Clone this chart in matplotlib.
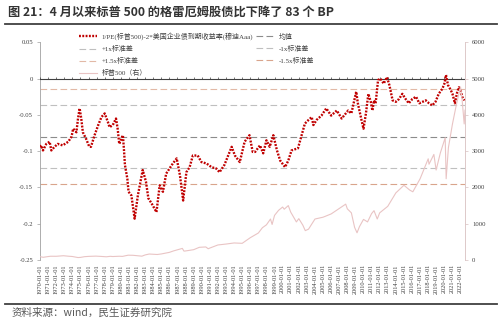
import numpy as np
import matplotlib
matplotlib.use("Agg")
from matplotlib import pyplot as plt
from matplotlib.lines import Line2D

# 1/PE(标普500) - 2*穆迪Aaa收益率, 按年份小数读取
gy_years = [1970.0, 1970.16, 1970.37, 1970.78, 1971.19, 1971.4, 1971.8, 1972.2, 1972.8, 1973.5,
            1973.9, 1974.1, 1974.5, 1974.7, 1974.9, 1975.1, 1975.3, 1975.7, 1976.1, 1976.3,
            1976.75, 1977.2, 1977.6, 1978.0, 1978.4, 1978.6, 1979.0, 1979.4, 1979.6, 1979.8,
            1980.25, 1980.4, 1980.5, 1980.8, 1980.95, 1981.3, 1981.7, 1982.1, 1982.7, 1983.1,
            1983.4, 1983.8, 1984.4, 1984.8, 1985.2, 1985.6, 1986.3, 1986.9, 1987.3, 1987.7,
            1988.1, 1988.5, 1988.9, 1989.5, 1989.96, 1990.6, 1991.2, 1991.8, 1992.2, 1992.8,
            1993.7, 1994.1, 1994.7, 1995.3, 1995.9, 1996.3, 1996.6, 1997.2, 1997.6, 1998.0,
            1998.4, 1998.85, 1999.3, 1999.7, 2000.3, 2000.7, 2001.1, 2001.9, 2002.3, 2002.75,
            2003.2, 2003.6, 2003.8, 2004.2, 2004.8, 2005.4, 2006.0, 2006.7, 2007.3, 2008.1,
            2008.5, 2008.9, 2009.1, 2009.3, 2009.75, 2010.0, 2010.3, 2010.6, 2010.9, 2011.1,
            2011.3, 2011.5, 2011.8, 2012.1, 2012.5, 2012.9, 2013.2, 2013.6, 2014.0, 2014.4,
            2014.8, 2015.2, 2015.6, 2016.05, 2016.5, 2016.9, 2017.3, 2017.7, 2018.1, 2018.5,
            2018.9, 2019.3, 2019.75, 2020.0, 2020.2, 2020.45, 2020.8, 2021.0, 2021.3, 2021.6,
            2021.8, 2022.0, 2022.2, 2022.5]
gy_vals = [-0.094, -0.092, -0.099, -0.090, -0.087, -0.099, -0.094, -0.090, -0.092, -0.087,
           -0.080, -0.069, -0.074, -0.055, -0.041, -0.055, -0.074, -0.083, -0.094, -0.094,
           -0.078, -0.064, -0.053, -0.048, -0.060, -0.067, -0.064, -0.055, -0.069, -0.090,
           -0.078, -0.101, -0.119, -0.138, -0.156, -0.161, -0.193, -0.161, -0.126, -0.142,
           -0.165, -0.172, -0.184, -0.147, -0.156, -0.131, -0.119, -0.110, -0.133, -0.168,
           -0.129, -0.122, -0.106, -0.106, -0.115, -0.117, -0.122, -0.124, -0.129, -0.119,
           -0.094, -0.106, -0.115, -0.087, -0.078, -0.101, -0.101, -0.092, -0.103, -0.085,
           -0.094, -0.078, -0.099, -0.113, -0.122, -0.113, -0.099, -0.096, -0.080, -0.062,
           -0.057, -0.053, -0.064, -0.057, -0.051, -0.041, -0.051, -0.044, -0.055, -0.044,
           -0.048, -0.028, -0.018, -0.034, -0.057, -0.069, -0.048, -0.021, -0.032, -0.044,
           -0.030, -0.034, -0.002, 0.000, -0.007, 0.002, -0.009, -0.030, -0.032, -0.028,
           -0.021, -0.028, -0.034, -0.028, -0.025, -0.034, -0.032, -0.030, -0.034, -0.037,
           -0.032, -0.021, -0.014, -0.007, 0.005, -0.009, -0.016, -0.021, -0.034, -0.018,
           -0.012, -0.016, -0.025, -0.030]

# 均值与标准差
gy_mean = -0.080
gy_std = 0.0435

# 标普500指数(右轴)
sp_years = [1970.0, 1970.4, 1971.0, 1971.3, 1972.0, 1972.9, 1973.5, 1974.0, 1974.7, 1975.0,
            1975.5, 1976.0, 1976.9, 1977.5, 1978.2, 1978.7, 1979.0, 1979.8, 1980.2, 1980.9,
            1981.5, 1982.6, 1983.0, 1983.5, 1984.5, 1985.0, 1986.0, 1986.5, 1987.6, 1987.8,
            1988.0, 1989.0, 1989.7, 1990.5, 1990.8, 1991.0, 1992.0, 1993.0, 1994.0, 1995.0,
            1996.0, 1997.0, 1997.5, 1998.0, 1998.5, 1998.7, 1999.0, 1999.5, 2000.0, 2000.2,
            2000.7, 2001.0, 2001.7, 2002.0, 2002.5, 2002.8, 2003.2, 2004.0, 2005.0, 2006.0,
            2007.0, 2007.8, 2008.0, 2008.5, 2008.9, 2009.2, 2009.5, 2010.0, 2010.5, 2011.0,
            2011.3, 2011.7, 2012.0, 2013.0, 2014.0, 2015.0, 2015.7, 2016.1, 2017.0, 2018.0,
            2018.1, 2018.7, 2018.98, 2019.5, 2020.1, 2020.22, 2020.5, 2021.0, 2021.5, 2022.0,
            2022.2, 2022.45, 2022.55]
sp_vals = [92, 75, 95, 104, 103, 118, 105, 97, 68, 72,
           92, 100, 107, 100, 89, 102, 96, 104, 100, 133,
           130, 106, 140, 165, 152, 167, 211, 250, 320, 245,
           250, 285, 350, 360, 310, 330, 415, 440, 470, 460,
           615, 745, 890, 970, 1130, 980, 1230, 1370, 1460, 1400,
           1500, 1320, 1050, 1140, 960, 810, 850, 1130, 1180, 1270,
           1420, 1540, 1410, 1300, 900, 750, 920, 1120, 1050, 1280,
           1360, 1130, 1300, 1480, 1850, 2060, 1930, 1880, 2240, 2790,
           2640, 2910, 2480, 2950, 3370, 2240, 3100, 3750, 4300, 4770,
           4400, 3750, 4130]

tick_years = list(range(1970, 2023))
tick_labels = [f"{y}-01-01" for y in tick_years]

serif = ["Liberation Serif", "Noto Sans CJK SC"]
plt.rcParams["font.family"] = serif

fig = plt.figure(figsize=(5, 3.23), dpi=100)
ax = fig.add_axes([0.08, 0.195, 0.85, 0.674])
ax2 = ax.twinx()

red, = ax.plot(gy_years, gy_vals, color="#C00000", lw=1.7, ls=(0, (0.8, 0.6)), zorder=5,
               label="1/PE(标普500)-2*美国企业债到期收益率(穆迪Aaa)")
m_ln = ax.axhline(gy_mean, color="#8C8C8C", lw=0.8, ls=(0, (6, 3)), label="均值")
p1 = ax.axhline(gy_mean + gy_std, color="#BFBFBF", lw=0.8, ls=(0, (6, 3)), label="+1x标准差")
n1 = ax.axhline(gy_mean - gy_std, color="#BFBFBF", lw=0.8, ls=(0, (6, 3)), label="-1x标准差")
p15 = ax.axhline(gy_mean + 1.5 * gy_std, color="#E2B9A6", lw=0.8, ls=(0, (6, 3)), label="+1.5x标准差")
n15 = ax.axhline(gy_mean - 1.5 * gy_std, color="#D9A48C", lw=0.8, ls=(0, (6, 3)), label="-1.5x标准差")
sp, = ax2.plot(sp_years, sp_vals, color="#E9C4C4", lw=0.8, label="标普500（右）")

# 零线及其刻度
ax.axhline(0, color="#404040", lw=0.8, zorder=4)
ax.vlines(tick_years, 0, 0.0018, color="#404040", lw=0.5, zorder=4)

ax.set_xlim(1970.0, 2022.55)
ax.set_ylim(-0.25, 0.05)
ax2.set_ylim(0, 6000)
ax.set_yticks([0.05, 0, -0.05, -0.1, -0.15, -0.2, -0.25])
ax.set_yticklabels(["0.05", "0", "-0.05", "-0.1", "-0.15", "-0.2", "-0.25"])
ax2.set_yticks(range(0, 6001, 1000))
ax.set_xticks(tick_years)
ax.set_xticklabels(tick_labels, rotation=90, fontsize=4.6, color="#404040")
ax.tick_params(axis="x", length=0, pad=3)
ax.tick_params(axis="y", labelsize=4.8, labelcolor="#404040", length=2, width=0.5, color="#A0A0A0", pad=3)
ax2.tick_params(axis="y", labelsize=4.8, labelcolor="#404040", length=2, width=0.5, color="#D8C0C0", pad=3)

for s in ["top", "bottom", "right"]:
    ax.spines[s].set_visible(False)
for s in ["top", "bottom", "left"]:
    ax2.spines[s].set_visible(False)
ax.spines["left"].set_color("#A0A0A0")
ax.spines["left"].set_linewidth(0.6)
ax2.spines["right"].set_color("#D8C0C0")
ax2.spines["right"].set_linewidth(0.6)

handles = [red, p1, p15, sp, m_ln, n1, n15]
fig.legend(handles=handles, labels=[h.get_label() for h in handles], ncol=2,
           loc="upper left", bbox_to_anchor=(0.158, 0.90), frameon=False,
           fontsize=5, labelcolor="#404040", handlelength=2.6, handletextpad=0.7,
           columnspacing=0.3, labelspacing=0.72, borderpad=0, borderaxespad=0)

# 标题与来源
fig.text(0.016, 0.962, "图 21：4 月以来标普 500 的格雷厄姆股债比下降了 83 个 BP",
         fontsize=8.8, fontweight="bold", color="#333333", family="Noto Sans CJK SC",
         va="center", ha="left")
fig.add_artist(Line2D([0.01, 0.994], [0.926, 0.926], color="#404040", lw=1.3))
fig.add_artist(Line2D([0.01, 0.994], [0.059, 0.059], color="#404040", lw=1.3))
fig.text(0.024, 0.031, "资料来源：wind，民生证券研究院", fontsize=7.6, color="#595959",
         family="Noto Sans CJK SC", va="center", ha="left")

fig.savefig("out.png", dpi=100)
